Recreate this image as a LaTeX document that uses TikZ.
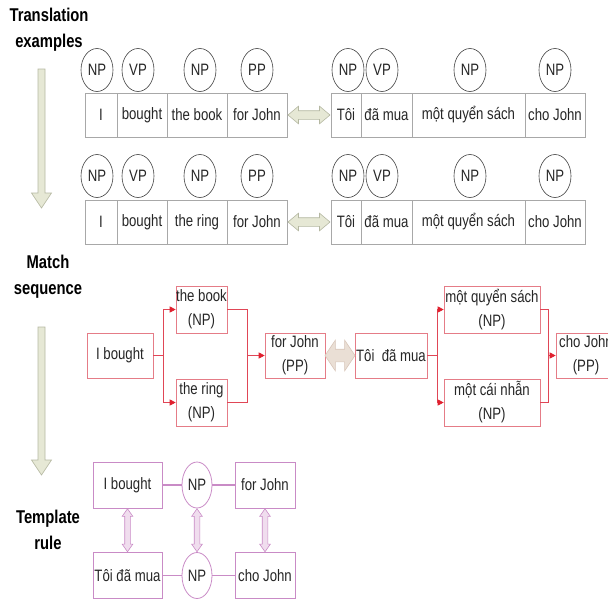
\documentclass[tikz,border=0pt]{standalone}
\usepackage{fontspec}
\setmainfont{Liberation Sans}[FakeStretch=0.8]
\usetikzlibrary{shapes.geometric,shapes.arrows,arrows.meta,calc}

\definecolor{gridgray}{HTML}{A8A8A8}
\definecolor{textgray}{HTML}{262626}
\definecolor{sagefill}{HTML}{E6E8D5}
\definecolor{sagedraw}{HTML}{B5B8A2}
\definecolor{redbox}{HTML}{E57C87}
\definecolor{redline}{HTML}{E04656}
\definecolor{redtip}{HTML}{E0202E}
\definecolor{beigefill}{HTML}{EADFD5}
\definecolor{beigedraw}{HTML}{D8C6B9}
\definecolor{tpink}{HTML}{C98BC6}
\definecolor{tpinkfill}{HTML}{F0DDEE}

\newcommand{\cellfont}{\fontsize{16.5}{20}\selectfont}
\newcommand{\tagfont}{\fontsize{16.5}{18}\selectfont}
\newcommand{\twofont}{\fontsize{16.5}{24}\selectfont}

\begin{document}
\begin{tikzpicture}[x=1pt,y=-1pt,
  title/.style={align=center, font=\fontsize{18.5}{26}\selectfont\bfseries, text=black, inner sep=0},
  cell/.style={draw=gridgray, line width=0.6pt, minimum height=44, inner sep=0, text=textgray, font=\cellfont},
  phrase/.style={ellipse, draw=black!75, line width=0.6pt, fill=white, minimum width=32, minimum height=43, inner sep=0, text=textgray, font=\tagfont},
  sagearrow/.style={fill=sagefill, draw=sagedraw, line width=0.6pt},
  sagedouble/.style={double arrow, sagearrow, inner sep=4, double arrow head extend=4.5, double arrow tip angle=80, minimum height=42},
  mbox/.style={draw=redbox, line width=0.6pt, inner sep=0, align=center, text=textgray, font=\twofont},
  rline/.style={draw=redline, line width=0.6pt},
  rarrow/.style={rline, -{Triangle[length=6pt,width=6pt,color=redtip]}},
  beigedouble/.style={double arrow, fill=beigefill, draw=beigedraw, line width=0.6pt, inner sep=6, double arrow head extend=9, double arrow tip angle=112, minimum height=30},
  tbox/.style={draw=tpink, line width=0.8pt, minimum width=69, minimum height=46, inner sep=0, text=textgray, font=\cellfont},
  tcircle/.style={ellipse, draw=tpink, line width=0.8pt, minimum width=30, minimum height=46, inner sep=0, text=textgray, font=\cellfont},
  tline/.style={draw=tpink, line width=1.2pt},
  tdouble/.style={double arrow, rotate=90, fill=tpinkfill, draw=tpink, line width=0.6pt, inner sep=2.5, double arrow head extend=2.5, double arrow tip angle=70, minimum height=43}
]
\clip (0,0) rectangle (608,603);

% section titles
\node[title] (tt1) at (49,29.5) {Translation\\examples};
\node[title] (tt2) at (48,277) {Match\\sequence};
\node[title] (tt3) at (48,530) {Template\\rule};

% downward block arrows between the sections
\draw[sagearrow] (38,69) -- (45,69) -- (45,193) -- (51.5,193) -- (41.5,208) -- (31.5,193) -- (38,193) -- cycle;
\draw[sagearrow] (38,327) -- (45,327) -- (45,460) -- (51.5,460) -- (41.5,475) -- (31.5,460) -- (38,460) -- cycle;

% ---- translation examples ----
% first pair
\node[cell, minimum width=32] (a1) at (101,115) {I};
\node[cell, minimum width=50] (a2) at (142,115) {bought};
\node[cell, minimum width=60] (a3) at (197,115) {the book};
\node[cell, minimum width=60] (a4) at (257,115) {for John};
\node[cell, minimum width=30] (b1) at (346,115) {Tôi};
\node[cell, minimum width=51] (b2) at (386.5,115) {đã mua};
\node[cell, minimum width=113] (b3) at (468.5,115) {một quyển sách};
\node[cell, minimum width=60] (b4) at (555,115) {cho John};

\node[phrase] (pa1) at (97,70) {NP};
\node[phrase] (pa2) at (138,70) {VP};
\node[phrase] (pa3) at (200,70) {NP};
\node[phrase] (pa4) at (257,70) {PP};
\node[phrase] (pb1) at (348,70) {NP};
\node[phrase] (pb2) at (382,70) {VP};
\node[phrase] (pb3) at (470,70) {NP};
\node[phrase] (pb4) at (555,70) {NP};

\node[sagedouble] (ga) at ($(a4.east)!0.5!(b1.west)$) {};

% second pair
\node[cell, minimum width=32] (c1) at (101,222) {I};
\node[cell, minimum width=50] (c2) at (142,222) {bought};
\node[cell, minimum width=60] (c3) at (197,222) {the ring};
\node[cell, minimum width=60] (c4) at (257,222) {for John};
\node[cell, minimum width=30] (d1) at (346,222) {Tôi};
\node[cell, minimum width=51] (d2) at (386.5,222) {đã mua};
\node[cell, minimum width=113] (d3) at (468.5,222) {một quyển sách};
\node[cell, minimum width=60] (d4) at (555,222) {cho John};

\node[phrase] (pc1) at (97,176) {NP};
\node[phrase] (pc2) at (138,176) {VP};
\node[phrase] (pc3) at (200,176) {NP};
\node[phrase] (pc4) at (257,176) {PP};
\node[phrase] (pd1) at (348,176) {NP};
\node[phrase] (pd2) at (382,176) {VP};
\node[phrase] (pd3) at (470,176) {NP};
\node[phrase] (pd4) at (555,176) {NP};

\node[sagedouble] (gc) at ($(c4.east)!0.5!(d1.west)$) {};

% ---- match sequence ----
\node[mbox, minimum width=66, minimum height=45] (ib) at (120,355.5) {I bought};
\node[mbox, minimum width=51, minimum height=47] (book) at (201.5,309.5) {the book\\(NP)};
\node[mbox, minimum width=51, minimum height=47] (ring) at (201.5,402.5) {the ring\\(NP)};
\node[mbox, minimum width=60, minimum height=45] (fj) at (295,355.5) {for John\\(PP)};
\node[mbox, minimum width=72, minimum height=45] (td) at (391,355.5) {Tôi\ \ đã mua};
\node[mbox, minimum width=96, minimum height=47] (mq) at (492,309.5) {một quyển sách\\(NP)};
\node[mbox, minimum width=96, minimum height=47] (mc) at (492,402.5) {một cái nhẫn\\(NP)};
\node[mbox, minimum width=60, minimum height=45] (cj) at (586,355.5) {cho John\\(PP)};

\coordinate (s1) at ($(ib.east)+(10,0)$);
\coordinate (m1) at ($(book.east)+(20,0)$);
\coordinate (s2) at ($(td.east)+(10,0)$);
\coordinate (m2) at ($(mq.east)+(8,0)$);

\draw[rline] (ib.east) -- (s1);
\draw[rline] (s1 |- book.west) -- (s1 |- ring.west);
\draw[rarrow] (s1 |- book.west) -- (book.west);
\draw[rarrow] (s1 |- ring.west) -- (ring.west);
\draw[rline] (book.east) -- (m1) -- (m1 |- ring.east) -- (ring.east);
\draw[rarrow] (m1 |- fj.west) -- (fj.west);

\draw[rline] (td.east) -- (s2);
\draw[rline] (s2 |- mq.west) -- (s2 |- mc.west);
\draw[rarrow] (s2 |- mq.west) -- (mq.west);
\draw[rarrow] (s2 |- mc.west) -- (mc.west);
\draw[rline] (mq.east) -- (m2) -- (m2 |- mc.east) -- (mc.east);
\draw[rarrow] (m2 |- cj.west) -- (cj.west);

\node[beigedouble] (bd) at ($(fj.east)!0.5!(td.west)$) {};

% ---- template rule ----
\node[tbox] (u1) at (127.5,485) {I bought};
\node[tcircle] (u2) at (197,485) {NP};
\node[tbox, minimum width=60] (u3) at (265,485) {for John};
\node[tbox] (v1) at (127.5,575.5) {Tôi đã mua};
\node[tcircle] (v2) at (197,575.5) {NP};
\node[tbox, minimum width=60] (v3) at (265,575.5) {cho John};

\draw[tline] (u1.east) -- (u2.west);
\draw[tline] (u2.east) -- (u3.west);
\draw[tline] (v1.east) -- (v2.west);
\draw[tline] (v2.east) -- (v3.west);

\node[tdouble] (w1) at ($(u1.south)!0.5!(v1.north)$) {};
\node[tdouble] (w2) at ($(u2.south)!0.5!(v2.north)$) {};
\node[tdouble] (w3) at ($(u3.south)!0.5!(v3.north)$) {};
\end{tikzpicture}
\end{document}
